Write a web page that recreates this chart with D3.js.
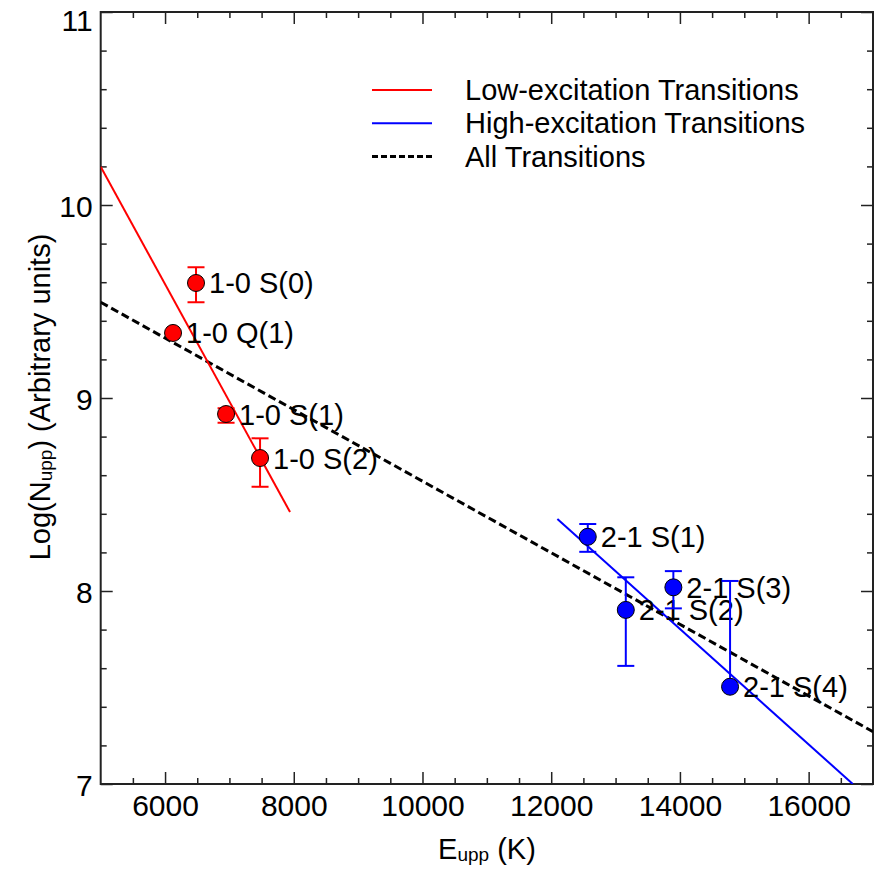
<!DOCTYPE html>
<html>
<head>
<meta charset="utf-8">
<script src="https://cdn.jsdelivr.net/npm/d3@7"></script>
<style>
  body { margin: 0; background: #fff; }
  text { font-family: "Liberation Sans", Arial, sans-serif; fill: #000; }
</style>
</head>
<body>
<div id="wrapper"></div>
<script>
// DATA
const lineNames = ["1-0 S(0)", "1-0 Q(1)", "1-0 S(1)", "1-0 S(2)", "2-1 S(1)", "2-1 S(2)", "2-1 S(3)", "2-1 S(4)"];
const eUpp = [6481, 6124, 6948, 7476, 12568, 13159, 13898, 14779];
const logN = [9.596, 9.337, 8.917, 8.689, 8.281, 7.902, 8.019, 7.504];
const errUp = [0.081, 0, 0.03, 0.102, 0.066, 0.169, 0.084, 0.548];
const errDown = [0.100, 0, 0.045, 0.149, 0.078, 0.29, 0.109, null];
const group = ["low", "low", "low", "low", "high", "high", "high", "high"];

// fitted lines, endpoints in data units
const lowFitX = [5000, 7942];
const lowFitY = [10.198, 8.409];
const highFitX = [12096, 16686];
const highFitY = [8.373, 7.0];
const allFitX = [5000, 17000];
const allFitY = [9.496, 7.271];

const legendLabels = ["Low-excitation Transitions", "High-excitation Transitions", "All Transitions"];
const xTicks = [6000, 8000, 10000, 12000, 14000, 16000];
const yTicks = [7, 8, 9, 10, 11];

// DIMENSIONS
let dimensions = {
  width: 886,
  height: 886,
  margin: { top: 12, right: 13, bottom: 102, left: 100.7 },
};
dimensions.boundedWidth = dimensions.width - dimensions.margin.left - dimensions.margin.right;
dimensions.boundedHeight = dimensions.height - dimensions.margin.top - dimensions.margin.bottom;

const colors = { low: "#ff0000", high: "#0000ff" };

const wrapper = d3.select("#wrapper")
  .append("svg")
  .attr("width", dimensions.width)
  .attr("height", dimensions.height);

const bounds = wrapper.append("g")
  .attr("transform", `translate(${dimensions.margin.left},${dimensions.margin.top})`);

bounds.append("clipPath").attr("id", "clip")
  .append("rect")
  .attr("width", dimensions.boundedWidth)
  .attr("height", dimensions.boundedHeight);

// SCALES
const xScale = d3.scaleLinear().domain([5000, 17000]).range([0, dimensions.boundedWidth]);
const yScale = d3.scaleLinear().domain([7, 11]).range([dimensions.boundedHeight, 0]);

// AXES (ticks inward on all four sides)
const majorLen = 12, minorLen = 6;
const xMinor = d3.range(5500, 17000, 500).filter(v => v % 2000 !== 0);
const yMinor = d3.range(7.2, 11, 0.2).filter(v => Math.abs(v - Math.round(v)) > 0.01);

function styleAxis(g) {
  g.select(".domain").remove();
  g.selectAll(".tick line").attr("stroke", "#222").attr("stroke-width", 1.5);
}

bounds.append("g")
  .attr("transform", `translate(0,${dimensions.boundedHeight})`)
  .call(d3.axisBottom(xScale).tickValues(xTicks).tickSize(-majorLen).tickFormat(d3.format("d")))
  .call(styleAxis)
  .call(g => g.selectAll("text").attr("font-size", 30).attr("dy", "0.71em").attr("y", 11));
bounds.append("g")
  .attr("transform", `translate(0,${dimensions.boundedHeight})`)
  .call(d3.axisBottom(xScale).tickValues(xMinor).tickSize(-minorLen).tickFormat(""))
  .call(styleAxis);
bounds.append("g")
  .call(d3.axisTop(xScale).tickValues(xTicks).tickSize(-majorLen).tickFormat(""))
  .call(styleAxis);
bounds.append("g")
  .call(d3.axisTop(xScale).tickValues(xMinor).tickSize(-minorLen).tickFormat(""))
  .call(styleAxis);

bounds.append("g")
  .call(d3.axisLeft(yScale).tickValues(yTicks).tickSize(-majorLen).tickFormat(d3.format("d")))
  .call(styleAxis)
  .call(g => g.selectAll("text").attr("font-size", 30).attr("x", -8)
    .attr("dy", d => d === 11 ? "0.62em" : "0.38em"));
bounds.append("g")
  .call(d3.axisLeft(yScale).tickValues(yMinor).tickSize(-minorLen).tickFormat(""))
  .call(styleAxis);
bounds.append("g")
  .attr("transform", `translate(${dimensions.boundedWidth},0)`)
  .call(d3.axisRight(yScale).tickValues(yTicks).tickSize(-majorLen).tickFormat(""))
  .call(styleAxis);
bounds.append("g")
  .attr("transform", `translate(${dimensions.boundedWidth},0)`)
  .call(d3.axisRight(yScale).tickValues(yMinor).tickSize(-minorLen).tickFormat(""))
  .call(styleAxis);

// frame
bounds.append("rect")
  .attr("width", dimensions.boundedWidth)
  .attr("height", dimensions.boundedHeight)
  .attr("fill", "none")
  .attr("stroke", "#222")
  .attr("stroke-width", 2);

// FIT LINES
const lineGenerator = d3.line()
  .x(d => xScale(d[0]))
  .y(d => yScale(d[1]));

const plot = bounds.append("g").attr("clip-path", "url(#clip)");

plot.append("path")
  .attr("d", lineGenerator(d3.zip(allFitX, allFitY)))
  .attr("fill", "none").attr("stroke", "#000").attr("stroke-width", 3)
  .attr("stroke-dasharray", "8,4");
plot.append("path")
  .attr("d", lineGenerator(d3.zip(lowFitX, lowFitY)))
  .attr("fill", "none").attr("stroke", colors.low).attr("stroke-width", 2);
plot.append("path")
  .attr("d", lineGenerator(d3.zip(highFitX, highFitY)))
  .attr("fill", "none").attr("stroke", colors.high).attr("stroke-width", 2);

// POINTS
const dataset = lineNames.map((name, i) => ({
  name, x: eUpp[i], y: logN[i], up: errUp[i], down: errDown[i], group: group[i],
}));

plot.selectAll(".label")
  .data(dataset)
  .join("text")
  .attr("x", d => xScale(d.x) + 13)
  .attr("y", d => yScale(d.y) + 10.5)
  .attr("font-size", 29)
  .text(d => d.name);

// error bars
const capHalf = 8.5;
const bars = plot.selectAll(".err")
  .data(dataset.filter(d => d.up > 0))
  .join("g")
  .attr("stroke", d => colors[d.group])
  .attr("stroke-width", 2);

bars.append("line")
  .attr("x1", d => xScale(d.x)).attr("x2", d => xScale(d.x))
  .attr("y1", d => yScale(d.y + d.up))
  .attr("y2", d => yScale(d.down === null ? d.y : d.y - d.down));
bars.append("line")
  .attr("x1", d => xScale(d.x) - capHalf).attr("x2", d => xScale(d.x) + capHalf)
  .attr("y1", d => yScale(d.y + d.up)).attr("y2", d => yScale(d.y + d.up));
bars.filter(d => d.down !== null).append("line")
  .attr("x1", d => xScale(d.x) - capHalf).attr("x2", d => xScale(d.x) + capHalf)
  .attr("y1", d => yScale(d.y - d.down)).attr("y2", d => yScale(d.y - d.down));

// points over the bar stems
plot.selectAll(".point")
  .data(dataset)
  .join("circle")
  .attr("cx", d => xScale(d.x))
  .attr("cy", d => yScale(d.y))
  .attr("r", 8.5)
  .attr("fill", d => colors[d.group])
  .attr("stroke", "#000")
  .attr("stroke-width", 1);

// LEGEND
const legendStyles = [
  { color: colors.low, dash: null, width: 2 },
  { color: colors.high, dash: null, width: 2 },
  { color: "#000", dash: "6,3", width: 3 },
];
const legend = wrapper.append("g").attr("transform", "translate(372,90)");
legendLabels.forEach((label, i) => {
  const item = legend.append("g").attr("transform", `translate(0,${i * 33.3})`);
  item.append("line")
    .attr("x1", 0).attr("x2", 60)
    .attr("stroke", legendStyles[i].color)
    .attr("stroke-width", legendStyles[i].width)
    .attr("stroke-dasharray", legendStyles[i].dash);
  item.append("text")
    .attr("x", 93).attr("y", 10)
    .attr("font-size", 29)
    .text(label);
});

// AXIS TITLES
const xTitle = wrapper.append("text")
  .attr("x", 487).attr("y", 859)
  .attr("text-anchor", "middle")
  .attr("font-size", 29);
xTitle.append("tspan").text("E");
xTitle.append("tspan").attr("font-size", 19).attr("dy", 2).text("upp");
xTitle.append("tspan").attr("dy", -2).text(" (K)");

const yTitle = wrapper.append("text")
  .attr("transform", "translate(50,397) rotate(-90)")
  .attr("text-anchor", "middle")
  .attr("font-size", 29);
yTitle.append("tspan").text("Log(N");
yTitle.append("tspan").attr("font-size", 19).attr("dy", 2).text("upp");
yTitle.append("tspan").attr("dy", -2).text(") (Arbitrary units)");
</script>
</body>
</html>
